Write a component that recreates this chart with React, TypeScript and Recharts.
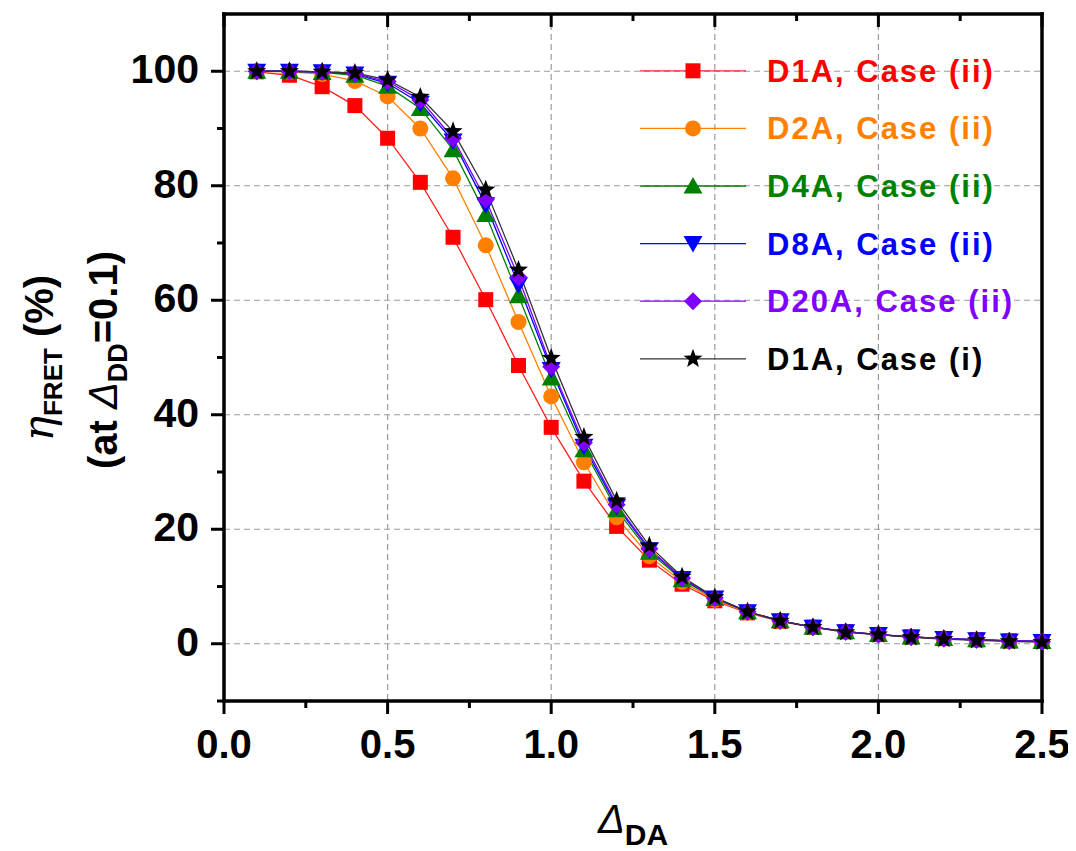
import { LineChart, Line, XAxis, YAxis, CartesianGrid, Legend, Label } from "recharts";

const SANS = "'Liberation Sans', Arial, sans-serif";

const DELTA_DA = [
  0.1, 0.2, 0.3, 0.4, 0.5, 0.6, 0.7, 0.8, 0.9, 1.0, 1.1, 1.2, 1.3, 1.4, 1.5, 1.6, 1.7, 1.8, 1.9, 2.0,
  2.1, 2.2, 2.3, 2.4, 2.5,
];

const D1A_II = [
  99.9, 99.3, 97.3, 94.0, 88.3, 80.6, 71.0, 60.1, 48.6, 37.8, 28.4, 20.5, 14.6, 10.4, 7.5, 5.4, 3.9, 2.9,
  2.1, 1.6, 1.2, 0.9, 0.7, 0.5, 0.4,
];
const D2A_II = [
  100, 99.9, 99.5, 98.3, 95.6, 90.0, 81.3, 69.6, 56.2, 43.2, 31.7, 22.1, 15.3, 10.8, 7.7, 5.5, 3.9, 2.9,
  2.1, 1.6, 1.2, 0.9, 0.7, 0.5, 0.4,
];
const D4A_II = [
  100, 100, 99.8, 99.3, 97.4, 93.5, 86.3, 75.0, 60.8, 46.4, 33.9, 23.4, 16.0, 11.2, 7.9, 5.6, 4.0, 2.9,
  2.1, 1.6, 1.2, 0.9, 0.7, 0.5, 0.4,
];
const D8A_II = [
  100, 100, 99.9, 99.5, 97.9, 94.4, 87.8, 76.7, 62.7, 47.9, 34.5, 24.0, 16.4, 11.4, 8.0, 5.6, 4.0, 2.9,
  2.1, 1.6, 1.2, 0.9, 0.7, 0.5, 0.4,
];
const D20A_II = [
  100, 100, 99.9, 99.6, 98.2, 95.0, 88.3, 77.6, 64.0, 48.4, 35.1, 24.3, 16.6, 11.5, 8.0, 5.6, 4.0, 2.9,
  2.1, 1.6, 1.2, 0.9, 0.7, 0.5, 0.4,
];
const D1A_I = [
  100, 100, 99.9, 99.7, 98.5, 95.5, 89.5, 79.3, 65.3, 49.9, 36.1, 25.0, 17.1, 11.7, 8.1, 5.6, 4.0, 2.9,
  2.0, 1.6, 1.1, 0.8, 0.6, 0.4, 0.3,
];

const X_MAJOR = [0, 0.5, 1.0, 1.5, 2.0, 2.5];
const X_MINOR = [0.25, 0.75, 1.25, 1.75, 2.25];
const X_GRID = [0.5, 1.0, 1.5, 2.0];
const Y_MAJOR = [0, 20, 40, 60, 80, 100];
const Y_MINOR = [-10, 10, 30, 50, 70, 90];

const X_TICKS = [...X_MAJOR, ...X_MINOR].sort((a, b) => a - b);
const Y_TICKS = [...Y_MAJOR, ...Y_MINOR].sort((a, b) => a - b);

type Shape = "square" | "circle" | "triangle" | "triangleDown" | "diamond" | "star";

const SERIES: { key: string; name: string; color: string; lineColor: string; shape: Shape; values: number[] }[] = [
  { key: "d1a2", name: "D1A, Case (ii)", color: "#FF0000", lineColor: "#FF2020", shape: "square", values: D1A_II },
  { key: "d2a2", name: "D2A, Case (ii)", color: "#FF8000", lineColor: "#FF8000", shape: "circle", values: D2A_II },
  { key: "d4a2", name: "D4A, Case (ii)", color: "#008000", lineColor: "#008000", shape: "triangle", values: D4A_II },
  { key: "d8a2", name: "D8A, Case (ii)", color: "#0000FF", lineColor: "#0000FF", shape: "triangleDown", values: D8A_II },
  { key: "d20a2", name: "D20A, Case (ii)", color: "#8000FF", lineColor: "#8000FF", shape: "diamond", values: D20A_II },
  { key: "d1a1", name: "D1A, Case (i)", color: "#000000", lineColor: "#333333", shape: "star", values: D1A_I },
];

const data = DELTA_DA.map((x, i) => {
  const row: Record<string, number> = { x };
  SERIES.forEach((s) => (row[s.key] = s.values[i]));
  return row;
});

const near = (list: number[], v: number) => list.some((m) => Math.abs(m - v) < 1e-6);

function Marker({ shape, cx, cy, color }: { shape: Shape; cx: number; cy: number; color: string }) {
  if (cx == null || cy == null) return null;
  switch (shape) {
    case "square":
      return <rect x={cx - 7.5} y={cy - 7.5} width={15} height={15} fill={color} />;
    case "circle":
      return <circle cx={cx} cy={cy} r={8} fill={color} />;
    case "triangle":
      return <polygon points={`${cx},${cy - 9} ${cx + 9.5},${cy + 7.5} ${cx - 9.5},${cy + 7.5}`} fill={color} />;
    case "triangleDown":
      return <polygon points={`${cx},${cy + 9} ${cx + 9.5},${cy - 7.5} ${cx - 9.5},${cy - 7.5}`} fill={color} />;
    case "diamond":
      return <polygon points={`${cx},${cy - 9} ${cx + 9},${cy} ${cx},${cy + 9} ${cx - 9},${cy}`} fill={color} />;
    case "star": {
      const pts: string[] = [];
      for (let k = 0; k < 10; k++) {
        const r = k % 2 === 0 ? 10 : 4.2;
        const a = -Math.PI / 2 + (k * Math.PI) / 5;
        pts.push(`${cx + r * Math.cos(a)},${cy + r * Math.sin(a)}`);
      }
      return <polygon points={pts.join(" ")} fill={color} />;
    }
  }
  return null;
}

function BottomTick({ x, y, payload }: any) {
  const major = near(X_MAJOR, payload.value);
  return (
    <g>
      <line x1={x} x2={x} y1={y} y2={y + (major ? 13 : 7)} stroke="#000" strokeWidth={3} />
      {major && (
        <text x={x} y={y + 57} textAnchor="middle" fontFamily={SANS} fontWeight="bold" fontSize={40} fill="#000">
          {payload.value.toFixed(1)}
        </text>
      )}
    </g>
  );
}

function TopTick({ x, y, payload }: any) {
  const major = near(X_MAJOR, payload.value);
  return <line x1={x} x2={x} y1={y} y2={y + (major ? 13 : 7)} stroke="#000" strokeWidth={3} />;
}

function LeftTick({ x, y, payload }: any) {
  const major = near(Y_MAJOR, payload.value);
  return (
    <g>
      <line x1={x} x2={x - (major ? 13 : 7)} y1={y} y2={y} stroke="#000" strokeWidth={3} />
      {major && (
        <text x={x - 25} y={y + 12} textAnchor="end" fontFamily={SANS} fontWeight="bold" fontSize={41} fill="#000">
          {payload.value}
        </text>
      )}
    </g>
  );
}

function RightTick({ x, y, payload }: any) {
  const major = near(Y_MAJOR, payload.value);
  return <line x1={x} x2={x - (major ? 13 : 7)} y1={y} y2={y} stroke="#000" strokeWidth={3} />;
}

function YTitle() {
  return (
    <g fontFamily={SANS} fontWeight="bold" fill="#000">
      <text x={45} y={350} textAnchor="middle" transform="rotate(-90, 45, 350)" fontSize={40}>
        <tspan fontFamily="'DejaVu Serif', serif" fontStyle="italic" fontWeight="normal" fontSize={42}>
          η
        </tspan>
        <tspan fontSize={26} dy={9}>FRET</tspan>
        <tspan dy={-9}> (%)</tspan>
      </text>
      <text x={109} y={352} textAnchor="middle" transform="rotate(-90, 109, 352)" fontSize={40}>
        <tspan>(at </tspan>
        <tspan fontStyle="italic" fontWeight="normal">Δ</tspan>
        <tspan fontSize={27} dy={10}>DD</tspan>
        <tspan dy={-10}>=0.1)</tspan>
      </text>
    </g>
  );
}

function XTitle() {
  return (
    <text x={625} y={825} textAnchor="middle" fontFamily={SANS} fill="#000">
      <tspan fontStyle="italic" fontSize={40}>Δ</tspan>
      <tspan fontWeight="bold" fontSize={30} dy={12}>DA</tspan>
    </text>
  );
}

const ROW_H = 57.6;

function LegendBox() {
  return (
    <svg width={430} height={ROW_H * SERIES.length} style={{ display: "block" }}>
      {SERIES.map((s, i) => {
        const cy = ROW_H / 2 + i * ROW_H;
        return (
          <g key={s.key}>
            <line x1={0} x2={106} y1={cy} y2={cy} stroke={s.lineColor} strokeWidth={1.3} />
            <Marker shape={s.shape} cx={53} cy={cy} color={s.color} />
            <text
              x={127}
              y={cy + 11}
              fontFamily={SANS}
              fontWeight="bold"
              fontSize={31}
              letterSpacing={2}
              fill={s.color}
            >
              {s.name}
            </text>
          </g>
        );
      })}
    </svg>
  );
}

const FRAME = { stroke: "#000", strokeWidth: 3.5, strokeLinecap: "square" as const };

export default function App() {
  return (
    <LineChart width={1068} height={843} data={data} margin={{ top: 5, right: 33, bottom: 0, left: 0 }}>
      <CartesianGrid
        stroke="#9a9a9a"
        strokeDasharray="6 4"
        strokeWidth={1.2}
        horizontalValues={Y_MAJOR}
        verticalValues={X_GRID}
      />
      <XAxis
        dataKey="x"
        type="number"
        domain={[0, 2.5]}
        ticks={X_TICKS}
        interval={0}
        height={150}
        tickSize={0}
        tickMargin={0}
        tick={BottomTick}
        tickLine={false}
        axisLine={FRAME}
      >
        <Label content={() => <XTitle />} />
      </XAxis>
      <XAxis
        xAxisId="top"
        orientation="top"
        dataKey="x"
        type="number"
        domain={[0, 2.5]}
        ticks={X_TICKS}
        interval={0}
        height={1}
        tickSize={0}
        tickMargin={0}
        tick={TopTick}
        tickLine={false}
        axisLine={FRAME}
      />
      <YAxis
        type="number"
        domain={[-10, 110]}
        ticks={Y_TICKS}
        interval={0}
        width={216}
        tickSize={0}
        tickMargin={0}
        tick={LeftTick}
        tickLine={false}
        axisLine={FRAME}
      >
        <Label content={() => <YTitle />} />
      </YAxis>
      <YAxis
        yAxisId="right"
        orientation="right"
        type="number"
        domain={[-10, 110]}
        ticks={Y_TICKS}
        interval={0}
        width={1}
        tickSize={0}
        tickMargin={0}
        tick={RightTick}
        tickLine={false}
        axisLine={FRAME}
      />
      {SERIES.map((s) => (
        <Line
          key={s.key}
          dataKey={s.key}
          name={s.name}
          type="linear"
          stroke={s.lineColor}
          strokeWidth={1.3}
          isAnimationActive={false}
          activeDot={false}
          dot={(p: any) => <Marker key={`${s.key}-${p.index}`} shape={s.shape} cx={p.cx} cy={p.cy} color={s.color} />}
        />
      ))}
      <Legend
        layout="vertical"
        align="center"
        verticalAlign="middle"
        wrapperStyle={{ left: 632, top: 34, width: 430 }}
        content={() => <LegendBox />}
      />
    </LineChart>
  );
}
